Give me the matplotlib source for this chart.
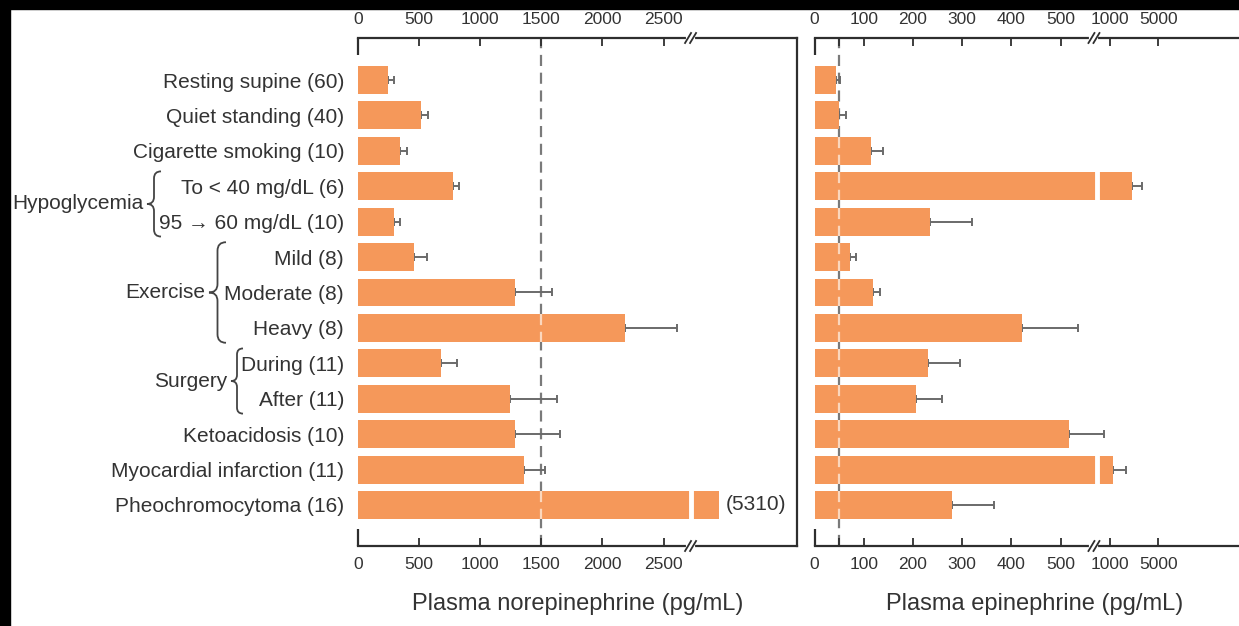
import numpy as np
import matplotlib
matplotlib.use("Agg")
import matplotlib.pyplot as plt
from matplotlib.path import Path
from matplotlib.patches import PathPatch, Rectangle
from matplotlib.lines import Line2D
from matplotlib.transforms import IdentityTransform

plt.rcParams['font.family'] = ['Liberation Sans', 'DejaVu Sans']

# ---------------- data ----------------
labels = ["Resting supine (60)", "Quiet standing (40)", "Cigarette smoking (10)",
          "To < 40 mg/dL (6)", "95 \u2192 60 mg/dL (10)",
          "Mild (8)", "Moderate (8)", "Heavy (8)",
          "During (11)", "After (11)",
          "Ketoacidosis (10)", "Myocardial infarction (11)", "Pheochromocytoma (16)"]
ne_mean = [245, 515, 344, 777, 295, 458, 1285, 2185, 680, 1245, 1285, 1360, 5310]
ne_err = [50, 58, 56, 49, 49, 107, 303, 425, 130, 385, 365, 170, 0]
epi_mean = [44, 50, 115, 2820, 235, 72, 119, 422, 231, 206, 517, 1250, 280]
epi_err = [8, 14, 24, 830, 85, 12, 14, 113, 65, 53, 71, 1070, 85]
ne_ticks = [0, 500, 1000, 1500, 2000, 2500]
epi_ticks = [0, 100, 200, 300, 400, 500, 1000, 5000]
ne_ref = 1500
epi_ref = 50
groups = [("Hypoglycemia", 3, 4), ("Exercise", 5, 7), ("Surgery", 8, 9)]
pheo_note = "(5310)"
ne_xlabel = "Plasma norepinephrine (pg/mL)"
epi_xlabel = "Plasma epinephrine (pg/mL)"

# ---------------- style ----------------
W, H = 1239, 626
ORANGE = "#F5985A"
TXT = "#333333"
SP = "#2e2e2e"
ERRC = "#6a6a6a"
BAR_H = 0.79
LBL_FS = 15


def piecewise(xp, fp):
    xp = np.asarray(xp, float)
    fp = np.asarray(fp, float)
    return (lambda x: np.interp(x, xp, fp)), (lambda y: np.interp(y, fp, xp))


ne_break = 2721
ne_fwd, ne_inv = piecewise([-1e7, 0, ne_break, 1e6],
                           [-1e7, 0, ne_break, ne_break + (1e6 - ne_break) * 0.09])
epi_break = 575
epi_fwd, epi_inv = piecewise([-1e7, 0, 590, 1000, 1e6],
                             [-1e7, 0, 590, 600.6, 600.6 + (1e6 - 1000) * 0.02455])

fig = plt.figure(figsize=(W / 100, H / 100), dpi=100, facecolor="white")
fig.patches.append(Rectangle((0, 1 - 9 / H), 1, 9 / H, transform=fig.transFigure,
                             color="black", zorder=10))
fig.patches.append(Rectangle((0, 0), 10 / W, 1, transform=fig.transFigure,
                             color="black", zorder=10))

ax1 = fig.add_axes([358 / W, 1 - 546 / H, 439 / W, 508 / H])
ax2 = fig.add_axes([814.5 / W, 1 - 546 / H, (W - 814.5) / W, 508 / H])

y = np.arange(len(labels))

for ax, mean, err, fwd, inv, xmaxpos, ref, brk in [
        (ax1, ne_mean, ne_err, ne_fwd, ne_inv, 3592, ne_ref, ne_break),
        (ax2, epi_mean, epi_err, epi_fwd, epi_inv, 862.8, epi_ref, epi_break)]:
    ax.set_xscale("function", functions=(fwd, inv))
    ax.set_xlim(0, float(inv(xmaxpos)))
    ax.set_ylim(len(labels) - 1 + 1.158, -1.186)
    ax.barh(y, mean, height=BAR_H, color=ORANGE, zorder=2)
    m = np.array(mean, float)
    e = np.array(err, float)
    sel = e > 0
    ax.errorbar(m[sel], y[sel], xerr=[np.zeros(sel.sum()), e[sel]], fmt="none",
                ecolor=ERRC, elinewidth=1.4, capsize=3, capthick=1.4, zorder=1.5)
    # reference dashed line
    ax.axvline(ref, color="#7a7a7a", lw=1.6, ls=(0, (5, 3)), zorder=1)
    over = m > ref
    ax.vlines(np.full(over.sum(), ref), y[over] - BAR_H / 2, y[over] + BAR_H / 2,
              color="#FBD7BD", lw=1.6, linestyles=[(0, (5, 3))], zorder=3)
    # gap in bars at axis break
    cross = m > brk
    ax.vlines(np.full(cross.sum(), brk), y[cross] - BAR_H / 2 - 0.05,
              y[cross] + BAR_H / 2 + 0.05, color="white", lw=3.5, zorder=3)
    for s in ["top", "bottom", "right"]:
        ax.spines[s].set_color(SP)
        ax.spines[s].set_linewidth(1.6)
    ax.spines["left"].set_visible(False)
    for y0, y1 in [(1, 1 - 17 / 508), (0, 17 / 508)]:
        ax.plot([0, 0], [y0, y1], transform=ax.transAxes, color=SP, lw=1.6,
                clip_on=False, solid_capstyle="butt")
    ax.tick_params(axis="x", which="both", top=True, bottom=True, labeltop=True,
                   labelbottom=True, direction="in", length=6, width=1.3,
                   color=SP, labelsize=12.5, labelcolor=TXT, pad=8)
    ax.set_facecolor("white")

ax2.spines["right"].set_visible(False)

ax1.set_xticks(ne_ticks)
ax1.set_xticklabels([str(t) for t in ne_ticks])
ax2.set_xticks(epi_ticks + [epi_ref])
ax2.set_xticklabels([str(t) for t in epi_ticks] + [""])

ax1.set_yticks(y)
ax1.set_yticklabels(labels, fontsize=LBL_FS, color=TXT)
ax1.tick_params(axis="y", length=0, pad=10)
ax2.set_yticks([])

ax1.annotate(pheo_note, xy=(ne_mean[-1], y[-1]), xytext=(5, 0),
             textcoords="offset points", va="center", ha="left",
             fontsize=LBL_FS, color=TXT)

ax1.set_xlabel(ne_xlabel, fontsize=17, color=TXT)
ax2.set_xlabel(epi_xlabel, fontsize=17, color=TXT)
ax2.xaxis.set_label_coords((1035 - 814.5) / (W - 814.5), -0.093)
ax1.xaxis.set_label_coords(0.5, -0.093)

ID = IdentityTransform()


def to_disp(ax, xv, yv):
    return ax.transData.transform((xv, yv))


def draw_break(ax, xv):
    xd = to_disp(ax, xv, 0)[0]
    for yf in (0, 1):
        yd = ax.transAxes.transform((0, yf))[1]
        fig.add_artist(Line2D([xd - 2.5, xd + 2.5], [yd, yd], color="white",
                              lw=3, transform=ID, zorder=5))
        for dx in (-2.5, 2.5):
            fig.add_artist(Line2D([xd + dx - 3, xd + dx + 3], [yd - 5, yd + 5],
                                  color=SP, lw=1.3, transform=ID, zorder=6))


draw_break(ax1, ne_break)
draw_break(ax2, 568)


def brace(x_tip, x_end, y_top, y_bot):
    xm = (x_tip + x_end) / 2
    ym = (y_top + y_bot) / 2
    r = (x_end - x_tip) / 2
    verts = [(x_end, y_top), (xm, y_top), (xm, y_top - r),
             (xm, ym + r),
             (xm, ym), (x_tip, ym),
             (xm, ym), (xm, ym - r),
             (xm, y_bot + r),
             (xm, y_bot), (x_end, y_bot)]
    codes = [Path.MOVETO, Path.CURVE3, Path.CURVE3,
             Path.LINETO,
             Path.CURVE3, Path.CURVE3,
             Path.CURVE3, Path.CURVE3,
             Path.LINETO,
             Path.CURVE3, Path.CURVE3]
    fig.add_artist(PathPatch(Path(verts, codes), fill=False, edgecolor="#444444",
                             lw=1.3, transform=ID))


brace_x = {"Hypoglycemia": (147, 161), "Exercise": (209, 226), "Surgery": (231, 243)}
for name, r0, r1 in groups:
    yt = to_disp(ax1, 0, r0 - 0.42)[1]
    yb = to_disp(ax1, 0, r1 + 0.42)[1]
    xt, xe = brace_x[name]
    brace(xt, xe, yt, yb)
    fig.text((xt - 4) / W, ((yt + yb) / 2) / H, name, ha="right", va="center",
             fontsize=LBL_FS, color=TXT)

fig.savefig("out.png", dpi=100, facecolor="white")
